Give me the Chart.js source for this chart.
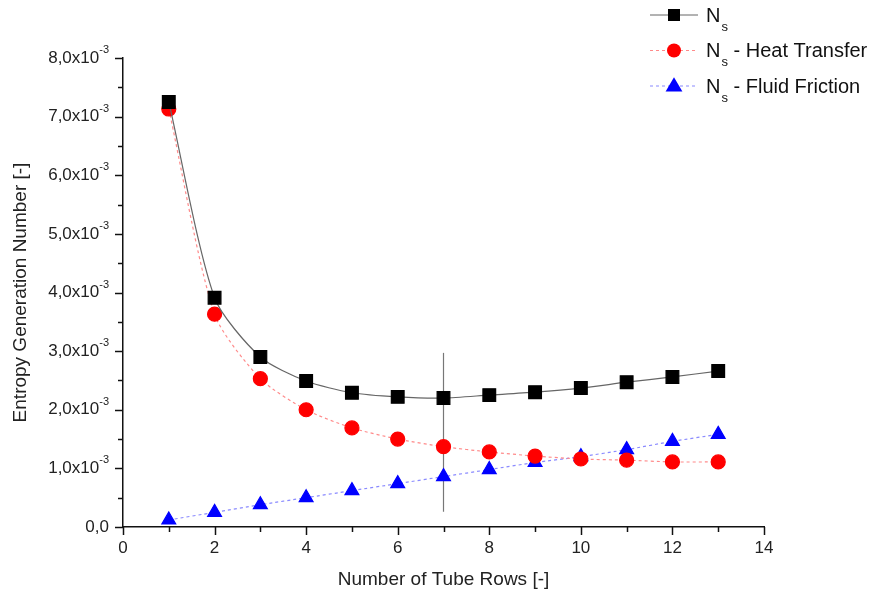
<!DOCTYPE html>
<html>
<head>
<meta charset="utf-8">
<script src="https://cdn.jsdelivr.net/npm/chart.js@4"></script>
<style>
  html, body { margin: 0; padding: 0; background: #fff; }
  #wrap { width: 888px; height: 601px; }
</style>
</head>
<body>
<div id="wrap"><canvas id="chart" width="888" height="601"></canvas></div>
<script>
// number of tube rows
var rows = [1, 2, 3, 4, 5, 6, 7, 8, 9, 10, 11, 12, 13];
// entropy generation numbers
var nsTotal = [0.00725, 0.00391, 0.00290, 0.00249, 0.00229, 0.00222, 0.00220, 0.00225, 0.00230, 0.00237, 0.00247, 0.00256, 0.00266];
var nsHeat = [0.00713, 0.00363, 0.00253, 0.00200, 0.00169, 0.00150, 0.00137, 0.00128, 0.00121, 0.00116, 0.00114, 0.00111, 0.00111];
var nsFriction = [0.00012, 0.00025, 0.00038, 0.00050, 0.00062, 0.00074, 0.00086, 0.00098, 0.00110, 0.00120, 0.00132, 0.00146, 0.00158];
// vertical marker line at the optimum
var markerX = [7, 7];
var markerY = [0.00026, 0.00297];

// axis ticks
var xTicks = [0, 2, 4, 6, 8, 10, 12, 14];
var yTicks = [0, 0.001, 0.002, 0.003, 0.004, 0.005, 0.006, 0.007, 0.008];
var yTickLabels = ["0,0", "1,0", "2,0", "3,0", "4,0", "5,0", "6,0", "7,0", "8,0"];
var yTickExp = "-3";

var legendNames = ["", " - Heat Transfer", " - Fluid Friction"];

function pairs(xs, ys) {
  return xs.map(function (x, i) { return { x: x, y: ys[i] }; });
}

// draws axis ticks, tick labels and the legend
var decorPlugin = {
  id: "decor",
  afterDraw: function (chart) {
    var ctx = chart.ctx;
    var xs = chart.scales.x, ys = chart.scales.y;
    var area = chart.chartArea;
    ctx.save();
    ctx.strokeStyle = "#111";
    ctx.lineWidth = 1.5;
    ctx.fillStyle = "#222";

    // x ticks (major + minor)
    for (var v = 0; v <= 14; v++) {
      var px = Math.round(xs.getPixelForValue(v)) + 0.5;
      var len = v % 2 === 0 ? 8 : 5;
      ctx.beginPath();
      ctx.moveTo(px, area.bottom);
      ctx.lineTo(px, area.bottom + len);
      ctx.stroke();
    }
    ctx.font = "17px 'Liberation Sans', Arial, sans-serif";
    ctx.textAlign = "center";
    ctx.textBaseline = "top";
    xTicks.forEach(function (t) {
      ctx.fillText(String(t), xs.getPixelForValue(t), area.bottom + 13);
    });

    // y ticks (major + minor)
    for (var k = 0; k <= 16; k++) {
      var val = k * 0.0005;
      var py = Math.round(ys.getPixelForValue(val)) + 0.5;
      var l = k % 2 === 0 ? 8 : 5;
      ctx.beginPath();
      ctx.moveTo(area.left, py);
      ctx.lineTo(area.left - l, py);
      ctx.stroke();
    }
    ctx.textBaseline = "middle";
    yTicks.forEach(function (t, i) {
      var py = ys.getPixelForValue(t);
      var right = area.left - 14;
      if (t === 0) {
        ctx.font = "17px 'Liberation Sans', Arial, sans-serif";
        ctx.textAlign = "right";
        ctx.fillText(yTickLabels[i], right, py);
        return;
      }
      ctx.font = "11px 'Liberation Sans', Arial, sans-serif";
      var ew = ctx.measureText(yTickExp).width;
      ctx.textAlign = "right";
      ctx.fillText(yTickExp, right, py - 8);
      ctx.font = "17px 'Liberation Sans', Arial, sans-serif";
      ctx.fillText(yTickLabels[i] + "x10", right - ew, py);
    });

    // legend
    var ds = chart.data.datasets;
    var lx = 650, ly = 15, gap = 35.5;
    for (var j = 0; j < 3; j++) {
      var d = ds[j];
      var y0 = ly + j * gap;
      ctx.strokeStyle = d.borderColor;
      ctx.lineWidth = 1;
      ctx.setLineDash(d.borderDash || []);
      ctx.beginPath();
      ctx.moveTo(lx, y0);
      ctx.lineTo(lx + 48, y0);
      ctx.stroke();
      ctx.setLineDash([]);
      ctx.fillStyle = d.pointBackgroundColor;
      drawMarker(ctx, d.pointStyle, lx + 24, y0, d.pointStyle === "rect" ? 6 : d.pointRadius);
      ctx.fillStyle = "#111";
      ctx.textAlign = "left";
      ctx.textBaseline = "middle";
      ctx.font = "20px 'Liberation Sans', Arial, sans-serif";
      ctx.fillText("N", lx + 56, y0 + 1);
      var nw = ctx.measureText("N").width;
      ctx.font = "13px 'Liberation Sans', Arial, sans-serif";
      ctx.fillText("s", lx + 57 + nw, y0 + 12);
      var sw = ctx.measureText("s").width;
      ctx.font = "20px 'Liberation Sans', Arial, sans-serif";
      ctx.fillText(legendNames[j], lx + 57 + nw + sw, y0 + 1);
    }
    ctx.restore();
  }
};

function drawMarker(ctx, style, x, y, r) {
  ctx.beginPath();
  if (style === "rect") {
    ctx.rect(x - r, y - r, 2 * r, 2 * r);
  } else if (style === "circle") {
    ctx.arc(x, y, r, 0, Math.PI * 2);
  } else {
    ctx.moveTo(x, y - r * 1.1);
    ctx.lineTo(x + r * 1.05, y + r * 0.7);
    ctx.lineTo(x - r * 1.05, y + r * 0.7);
    ctx.closePath();
  }
  ctx.fill();
}

var ctx = document.getElementById("chart").getContext("2d");
var chart = new Chart(ctx, {
  type: "line",
  data: {
    datasets: [
      {
        label: "Ns",
        data: pairs(rows, nsTotal),
        borderColor: "#666",
        borderWidth: 1.2,
        pointStyle: "rect",
        pointRadius: 9,
        pointBackgroundColor: "#000",
        pointBorderColor: "#000",
        tension: 0.25,
      },
      {
        label: "Ns - Heat Transfer",
        data: pairs(rows, nsHeat),
        borderColor: "#ff8a8a",
        borderWidth: 1.2,
        borderDash: [3, 3],
        pointStyle: "circle",
        pointRadius: 7,
        pointBackgroundColor: "#ff0000",
        pointBorderColor: "#ff0000",
        tension: 0.25,
      },
      {
        label: "Ns - Fluid Friction",
        data: pairs(rows, nsFriction),
        borderColor: "#8a8aff",
        borderWidth: 1.2,
        borderDash: [3, 3],
        pointStyle: "triangle",
        pointRadius: 8,
        pointBackgroundColor: "#0000ff",
        pointBorderColor: "#0000ff",
        tension: 0.25,
      },
      {
        label: "marker",
        data: pairs(markerX, markerY),
        borderColor: "#777",
        borderWidth: 1.2,
        pointRadius: 0,
      },
    ],
  },
  options: {
    responsive: false,
    animation: false,
    layout: { padding: { top: 58, right: 124, left: 0, bottom: 0 } },
    plugins: { legend: { display: false }, tooltip: { enabled: false } },
    scales: {
      x: {
        type: "linear",
        min: 0,
        max: 14,
        grid: { display: false },
        border: { color: "#111", width: 1.5 },
        ticks: { display: false },
        title: {
          display: true,
          text: "Number of Tube Rows [-]",
          font: { size: 19, family: "'Liberation Sans', Arial, sans-serif" },
          color: "#222",
          padding: { top: 0, bottom: 10 },
        },
        afterFit: function (scale) { scale.height = 74; },
      },
      y: {
        min: 0,
        max: 0.008,
        grid: { display: false },
        border: { color: "#111", width: 1.5 },
        ticks: { display: false },
        title: {
          display: true,
          text: "Entropy Generation Number [-]",
          font: { size: 19, family: "'Liberation Sans', Arial, sans-serif" },
          color: "#222",
          padding: { top: 9, bottom: 0 },
        },
        afterFit: function (scale) { scale.width = 123; },
      },
    },
  },
  plugins: [decorPlugin],
});
</script>
</body>
</html>
